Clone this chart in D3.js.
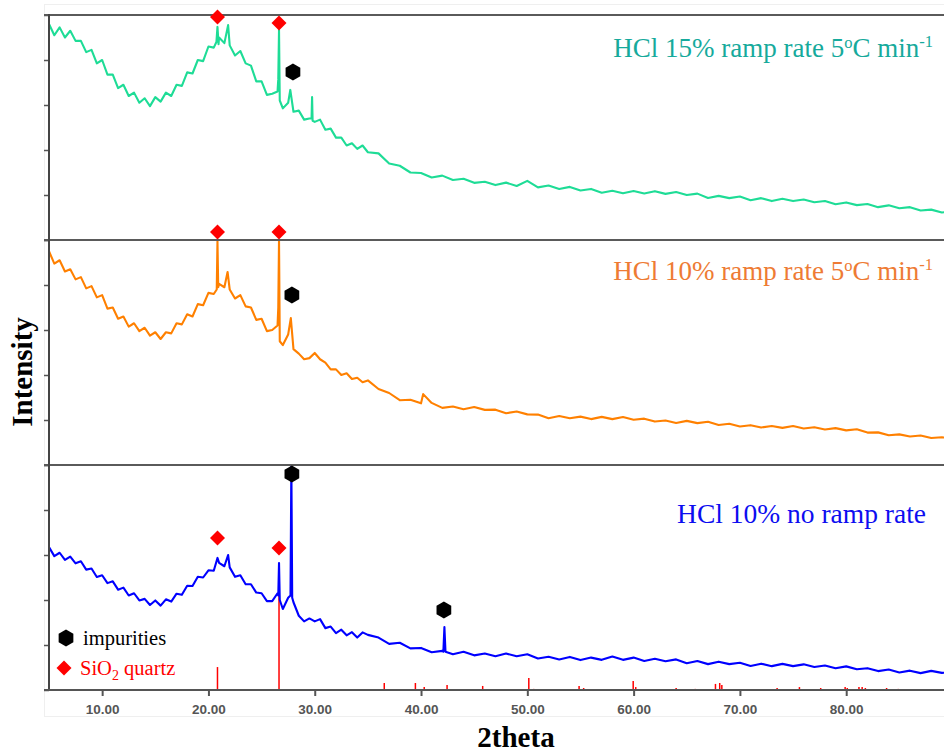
<!DOCTYPE html>
<html><head><meta charset="utf-8">
<script src="https://cdn.jsdelivr.net/npm/d3@7"></script>
<style>body{margin:0;background:#fff}svg{display:block}</style>
</head><body>
<svg id="c" width="944" height="752"></svg>
<script>
// ---- data (2theta grid, intensities in arbitrary units 0-100 per panel) ----
const fineAngles = d3.range(5, 35.01, 0.5);
const coarseAngles = d3.range(36, 90.01, 1);
const angles = fineAngles.concat(coarseAngles);

const green = [96,91,94.5,90,93,88.5,88.5,83.5,84.5,78.5,
 80,73.5,73.5,67.5,69,64,65.5,61,63,59.5,
 63.5,61.5,65.5,64,69,68.5,74.5,74,80,79.5,
 86,85.5,90,87.5,86.5,82,84,78.5,77.5,70.5,
 70.5,64.5,65,66,58.5,61,57,57.5,53.5,54,
 52.5,53.5,49,49.5,45.5,45.5,42,43,40.5,42,
 39,
 38.5,34,33,30,29.8,27.8,28.6,26.7,27.2,25.4,
 25.9,24.4,25.5,24,26.3,23.4,24.2,22.7,23.6,22,
 22.7,21,21.9,20.8,21.8,20.7,21.7,20.5,21.3,20,
 20.6,18.7,19.6,18.6,19.3,17.7,18.6,17.3,18.3,17.3,
 18,16.8,17.3,15.9,16.7,15.5,16,14.6,15.4,14.1,
 14.6,13.1,13.5,12.2,12.8];
const greenPeakAngles = [20.75, 20.85, 20.95, 21.85, 26.57, 26.64, 26.71, 27.7, 29.7, 29.75, 29.8];
const greenPeakVals   = [88, 94.7, 87, 95.5, 71.5, 93.3, 62, 66.7, 54, 63.5, 53];

const orange = [95,89.5,91,86,87,82.5,83.5,78.5,79.5,74.5,
 75.5,69.5,70,65,66,61.5,63,59.5,61,57.5,
 59,56,59,58.5,63,62.5,67,66,71.5,71,
 76.5,76,80.5,79,78,74,75.5,70.5,70,64.5,
 65,59.5,60,62,53.3,58,51.5,49.5,47,47.5,
 49.8,47,45.5,42.5,42.5,40,40.8,38.2,38.8,36.8,
 37.6,
 33.8,32,28.8,29,27.4,27.6,25.4,26,24.8,25.8,
 24.5,24.6,23,23.8,22.5,22.4,20.8,21.8,20.8,21.5,
 20.4,21.4,20.4,21.3,20.1,20.6,19.3,19.8,18.7,19.6,
 18.6,19.2,17.8,18.3,17.1,17.7,16.7,17.3,16.5,17.3,
 16.2,16.8,15.8,16.4,15.4,15.9,14.4,14.5,13.2,13.6,
 12.7,13.1,12,12.3,11.8];
const orangePeakAngles = [20.78, 20.85, 20.92, 21.8, 26.57, 26.64, 26.71, 27.75, 40.2];
const orangePeakVals   = [78, 99.5, 79, 85.8, 70, 100, 55, 65.3, 31.5];

const blue = [63.5,59.5,61,57.8,59.3,56.3,57.2,53.5,54,50.2,
 51,47.5,48.3,44.6,45.5,42,43,39.8,40.5,37.8,
 39.8,37.5,40.3,39.3,42.8,42.3,46.3,46.2,50.3,50,
 53.2,53,56.5,55,54.5,50.3,51,47,47,43.3,
 43,39.5,39.5,43,36,41,39,33,30.5,31.8,
 30.5,31.5,27.5,28.2,25.3,26.8,24.3,25.7,23.3,25.6,
 24.5,
 23.3,20.5,21,18.5,18.7,16.8,17.4,15.9,17,15.4,
 16.2,15,16.2,15,15.9,14,14.8,13.6,14.7,13.3,
 14.4,13.4,14.9,13.4,14.4,12.9,13.9,12.8,13.6,11.9,
 12.9,11.5,12.6,11.5,12.1,10.7,11.7,10.6,11.6,10.6,
 11.4,10.2,10.9,9.7,10.5,9.2,9.7,8.4,9.1,7.8,
 8.6,7.5,8.5,7.6,7.9];
const bluePeakAngles = [20.85, 21.85, 26.57, 26.64, 26.71, 27.72, 27.8, 27.88, 42.1, 42.2, 42.3];
const bluePeakVals   = [58.7, 60, 42, 56.4, 40, 42, 100, 41, 17, 28, 17];

// SiO2 quartz reference pattern (bottom panel units)
const quartzAngles = [20.85,26.64,36.54,39.47,40.3,42.45,45.8,50.14,50.6,54.87,55.3,57.2,59.96,60.2,64.0,65.8,67.7,68.1,68.3,73.5,75.6,77.6,79.9,80.1,81.2,81.5,81.8,83.8,84.9,87.4,87.7];
const quartzHeights = [10.2,51.1,3.1,3.1,1.3,2.2,1.8,5.3,0.5,1.8,0.9,0.5,4,1.3,0.9,0.5,2.7,3.1,2.2,0.9,1.3,0.9,1.3,0.9,1.3,1.3,0.9,0.9,0.5,0.5,0.5];

// marker annotations: [panel, 2theta, value]
const quartzMarks = [[0,20.85,99.1],[0,26.64,96.4],[1,20.85,103.6],[1,26.64,103.6],[2,20.85,67.6],[2,26.64,63.1]];
const impurityMarks = [[0,27.95,74.7],[1,27.85,75.6],[2,27.85,96],[2,42.15,35.6]];

const xTicks = [10,20,30,40,50,60,70,80];
const yTicks = [0,20,40,60,80,100];

// ---- drawing ----
const svg = d3.select("#c");
const W = 944;
const x = d3.scaleLinear([5, 90], [49, 952.5]);
const panelTops = [15, 240, 465];
const ys = panelTops.map(t => d3.scaleLinear([0, 100], [t + 225, t]));

// faint outer frame
svg.append("rect").attr("x", 44.5).attr("y", 4.5).attr("width", 905).attr("height", 712)
  .attr("fill", "none").attr("stroke", "#efefef");

svg.append("defs").append("clipPath").attr("id", "clip")
  .append("rect").attr("x", 49).attr("y", 0).attr("width", W - 49).attr("height", 690);

function merge(vals, pa, pv) {
  const pts = angles.map((a, i) => [a, vals[i]]);
  pa.forEach((a, i) => pts.push([a, pv[i]]));
  return pts.sort((p, q) => p[0] - q[0]);
}
const series = [
  {pts: merge(green, greenPeakAngles, greenPeakVals), color: "#1edc96"},
  {pts: merge(orange, orangePeakAngles, orangePeakVals), color: "#ff8000"},
  {pts: merge(blue, bluePeakAngles, bluePeakVals), color: "#0000ff"}
];

const plot = svg.append("g").attr("clip-path", "url(#clip)");

// quartz reference sticks
plot.selectAll("line.q").data(quartzAngles).join("line")
  .attr("x1", d => x(d)).attr("x2", d => x(d))
  .attr("y1", ys[2](0)).attr("y2", (d, i) => ys[2](quartzHeights[i]))
  .attr("stroke", "#ff0000").attr("stroke-width", 1.5);

series.forEach((s, k) => {
  const line = d3.line().x(d => x(d[0])).y(d => ys[k](d[1]));
  plot.append("path").datum(s.pts).attr("d", line)
    .attr("fill", "none").attr("stroke", s.color).attr("stroke-width", 2.1)
    .attr("stroke-linejoin", "round");
});

// y axes per panel (tick marks only)
ys.forEach(y => {
  const g = svg.append("g").attr("transform", "translate(49,0)")
    .call(d3.axisLeft(y).tickValues(yTicks).tickSize(5).tickFormat(""));
  g.select(".domain").remove();
  g.selectAll(".tick line").attr("stroke", "#555").attr("stroke-width", 1.5);
});

// horizontal separators
[15, 240, 465].forEach(yy => {
  svg.append("line").attr("x1", 44).attr("x2", W).attr("y1", yy).attr("y2", yy)
    .attr("stroke", "#5a5a5a").attr("stroke-width", 2);
});
// left axis line
svg.append("line").attr("x1", 49).attr("x2", 49).attr("y1", 14).attr("y2", 691)
  .attr("stroke", "#444").attr("stroke-width", 2);

// bottom axis
const xa = svg.append("g").attr("transform", "translate(0,690)")
  .call(d3.axisBottom(x).tickValues(xTicks).tickSize(6).tickPadding(8).tickFormat(d3.format(".2f")));
xa.select(".domain").attr("stroke", "#555").attr("stroke-width", 2).attr("d", "M44,0H" + W);
xa.selectAll(".tick line").attr("stroke", "#555").attr("stroke-width", 2);
xa.selectAll(".tick text").attr("fill", "#555").attr("font-family", "'Liberation Sans', Arial, sans-serif")
  .attr("font-size", 13.5).attr("font-weight", "bold");

// markers
const diamond = "M0,-7.5L7.5,0L0,7.5L-7.5,0Z";
const hexagon = d3.range(6).map(i => {
  const a = (i * 60 - 90) * Math.PI / 180;
  return [8.5 * Math.cos(a), 8.5 * Math.sin(a)];
});
const hexPath = "M" + hexagon.map(p => p.join(",")).join("L") + "Z";

svg.selectAll("path.qm").data(quartzMarks).join("path")
  .attr("d", diamond).attr("fill", "#ff0000")
  .attr("transform", d => `translate(${x(d[1])},${ys[d[0]](d[2])})`);
svg.selectAll("path.im").data(impurityMarks).join("path")
  .attr("d", hexPath).attr("fill", "#000")
  .attr("transform", d => `translate(${x(d[1])},${ys[d[0]](d[2])})`);

// series labels
const serif = "'Liberation Serif', 'Times New Roman', serif";
function rampLabel(txt, color, yb) {
  const t = svg.append("text").attr("x", 933).attr("y", yb).attr("text-anchor", "end")
    .attr("font-family", serif).attr("font-size", 27).attr("fill", color);
  t.append("tspan").text(txt);
  t.append("tspan").attr("dy", -9).attr("font-size", 16.5).text("o");
  t.append("tspan").attr("dy", 9).text("C min");
  t.append("tspan").attr("dy", -10).attr("font-size", 16.5).text("-1");
}
rampLabel("HCl 15% ramp rate 5", "#16aa9c", 57);
rampLabel("HCl 10% ramp rate 5", "#ee7b34", 280);
svg.append("text").attr("x", 926).attr("y", 523).attr("text-anchor", "end")
  .attr("font-family", serif).attr("font-size", 27.5).attr("fill", "#0d0df0")
  .text("HCl 10% no ramp rate");

// legend
svg.append("path").attr("d", hexPath).attr("fill", "#000").attr("transform", "translate(66,638)");
svg.append("text").attr("x", 83).attr("y", 645).attr("font-family", serif).attr("font-size", 20.5)
  .attr("fill", "#000").text("impurities");
svg.append("path").attr("d", diamond).attr("fill", "#ff0000").attr("transform", "translate(64,668)");
const lt = svg.append("text").attr("x", 80).attr("y", 675).attr("font-family", serif).attr("font-size", 20.5)
  .attr("fill", "#ff0000");
lt.append("tspan").text("SiO");
lt.append("tspan").attr("dy", 5).attr("font-size", 14).text("2");
lt.append("tspan").attr("dy", -5).text(" quartz");

// axis titles
svg.append("text").attr("x", 516).attr("y", 747).attr("text-anchor", "middle")
  .attr("font-family", serif).attr("font-weight", "bold").attr("font-size", 29).attr("fill", "#000")
  .text("2theta");
svg.append("text").attr("transform", "translate(32,372) rotate(-90)").attr("text-anchor", "middle")
  .attr("font-family", serif).attr("font-weight", "bold").attr("font-size", 29).attr("fill", "#000")
  .text("Intensity");
</script>
</body></html>
